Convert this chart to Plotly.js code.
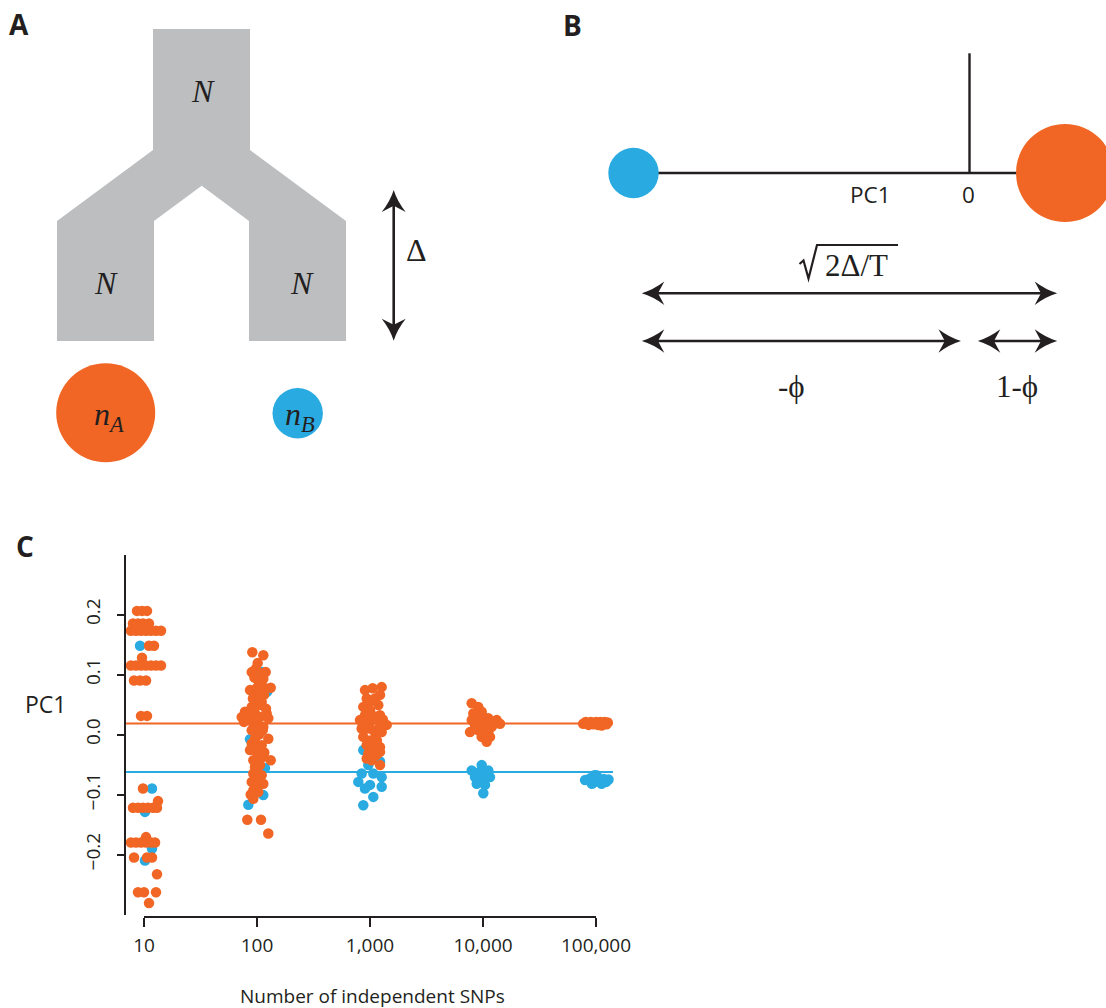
<!DOCTYPE html>
<html><head><meta charset="utf-8">
<script src="https://cdn.plot.ly/plotly-3.0.1.min.js"></script>
<style>html,body{margin:0;padding:0;background:#fff}</style>
</head><body><div id="chart" style="width:1106px;height:1008px"></div>
<script>
// ---------------- data (panel C) ----------------
const snpTicks = [10, 100, 1000, 10000, 100000];
const snpTickText = ['10', '100', '1,000', '10,000', '100,000'];
const pc1Ticks = [-0.2, -0.1, 0, 0.1, 0.2];
const pc1TickText = ['\u22120.2', '\u22120.1', '0.0', '0.1', '0.2'];
const meanA = 0.0183;   // orange population expected PC1
const meanB = -0.0623;  // blue population expected PC1

// 10 SNPs
const a10X = [8.67, 9.60, 10.63, 7.99, 8.85, 9.80, 11.07, 7.67, 8.50, 9.41, 10.42, 11.53, 12.77, 14.14, 11.07, 12.26, 9.60,
  7.67, 8.50, 9.41, 10.42, 11.53, 12.77, 14.14, 8.16, 9.22, 10.42, 9.41, 10.63,
  9.80, 13.30, 7.99, 8.85, 9.80, 10.85, 12.01, 13.03, 10.42, 7.67, 8.50, 9.41, 10.42, 11.53, 12.52,
  8.16, 10.63, 11.77, 13.03, 8.85, 10.0, 12.77, 11.07];
const a10Y = [0.206, 0.206, 0.206, 0.185, 0.185, 0.185, 0.185, 0.173, 0.173, 0.173, 0.173, 0.173, 0.173, 0.173, 0.148, 0.148, 0.128,
  0.115, 0.115, 0.115, 0.115, 0.115, 0.115, 0.115, 0.090, 0.090, 0.090, 0.031, 0.031,
  -0.090, -0.111, -0.122, -0.122, -0.122, -0.122, -0.122, -0.122, -0.171, -0.180, -0.180, -0.180, -0.180, -0.180, -0.180,
  -0.205, -0.205, -0.205, -0.233, -0.263, -0.263, -0.263, -0.281];
const b10X = [9.22, 11.77, 10.2, 11.77, 10.2];
const b10Y = [0.148, -0.090, -0.129, -0.190, -0.210];

// 100 SNPs
const a100X = [90.9, 113.7, 101.4, 89.8, 113.7, 119.4, 102.7, 113.7, 86.7, 99.4, 113.7, 132.2, 96.0, 115.3, 110.0, 89.8, 106.3, 120.1,
  78.3, 96.0, 121.8, 73.2, 86.7, 106.3, 125.9, 76.7, 92.8, 113.7, 89.8, 112.3, 96.0, 125.9, 89.8, 110.0, 86.7, 99.4,
  92.8, 113.7, 132.2, 96.0, 106.3, 92.8, 110.0, 89.8, 113.7, 92.8, 102.7, 92.8, 82.1, 108.5, 125.9,
  98, 105, 92, 100, 84, 98, 104, 94, 104, 100, 105, 98, 88, 116, 100, 108, 95];
const a100Y = [0.137, 0.132, 0.119, 0.104, 0.102, 0.104, 0.090, 0.093, 0.074, 0.077, 0.079, 0.078, 0.063, 0.066, 0.054, 0.046, 0.049, 0.043,
  0.038, 0.035, 0.035, 0.029, 0.027, 0.029, 0.027, 0.021, 0.018, 0.013, 0.007, 0.007, -0.007, -0.007, -0.015, -0.018, -0.026, -0.029,
  -0.043, -0.037, -0.043, -0.054, -0.051, -0.065, -0.068, -0.079, -0.082, -0.093, -0.096, -0.107, -0.142, -0.142, -0.165,
  0.110, 0.085, 0.060, 0.055, 0.032, 0.012, 0.000, -0.020, -0.040, -0.060, -0.075, -0.085, -0.100, -0.030, 0.025, 0.070, 0.095];
const b100X = [86.7, 106.3, 117.7, 113.7, 83.8, 122.6, 110.7, 84.5, 102.7, 110.0];
const b100Y = [-0.008, -0.021, -0.056, -0.101, -0.117, 0.071, 0.104, 0.032, -0.084, -0.030];

// 1,000 SNPs
const a1000X = [903, 1056, 1269, 1226, 935, 1107, 872, 1184, 903, 1226, 815, 1000, 1226, 1405, 844, 1070, 1269, 872, 1107,
  935, 1226, 966, 1146, 1226, 935, 1035, 1226, 1000, 1100, 950, 1150, 1000, 1050, 1300, 880, 1000, 1150];
const a1000Y = [0.074, 0.077, 0.079, 0.066, 0.060, 0.060, 0.046, 0.049, 0.032, 0.032, 0.024, 0.021, 0.018, 0.016, 0.010, 0.007, 0.004, -0.004, -0.007,
  -0.018, -0.021, -0.032, -0.034, -0.029, -0.040, -0.043, -0.051, 0.040, 0.030, 0.010, 0.005, -0.010, -0.025, 0.025, 0.020, 0.055, -0.010];
const b1000X = [872, 1000, 1146, 844, 1070, 1269, 788, 1000, 1269, 903, 1070, 872, 966, 1226];
const b1000Y = [-0.026, -0.029, -0.026, -0.065, -0.065, -0.071, -0.079, -0.084, -0.087, -0.090, -0.104, -0.118, -0.051, -0.045];

// 10,000 SNPs
const a10000X = [7943, 9085, 8209, 9739, 7943, 9408, 11139, 13222, 14139, 8497, 10062, 11940, 7674, 9085, 11139, 9739, 11533, 10783,
  10000, 9000, 10500, 12500, 8800, 10400, 12000];
const a10000Y = [0.052, 0.046, 0.035, 0.038, 0.024, 0.027, 0.027, 0.024, 0.018, 0.016, 0.013, 0.013, 0.004, 0.007, 0.004, -0.004, -0.004, -0.012,
  0.030, 0.020, 0.020, 0.018, 0.010, 0.002, 0.022];
const b10000X = [9739, 7943, 9408, 11139, 11533, 8798, 10416, 10062, 8497, 10500, 9500];
const b10000Y = [-0.051, -0.060, -0.062, -0.060, -0.071, -0.082, -0.084, -0.098, -0.071, -0.066, -0.075];

// 100,000 SNPs
const a100000X = [77000, 81000, 86000, 90000, 95000, 100000, 104000, 109000, 114000, 119000, 124000, 127000, 84000, 98000, 112000];
const a100000Y = [0.018, 0.021, 0.016, 0.021, 0.017, 0.021, 0.016, 0.021, 0.018, 0.021, 0.017, 0.020, 0.019, 0.019, 0.015];
const b100000X = [80000, 89000, 95000, 97000, 101000, 106000, 112000, 117000, 123000, 129000, 92000];
const b100000Y = [-0.076, -0.073, -0.080, -0.068, -0.068, -0.078, -0.082, -0.074, -0.079, -0.075, -0.082];

// ---------------- styling ----------------
const W = 1106, H = 1008;
const ORANGE = '#F16624', BLUE = '#29ABE2', GRAY = '#BCBEC0', INK = '#231F20';
const SANS = 'Open Sans, sans-serif', SERIF = 'Liberation Serif, Times New Roman, serif';
const fx = x => x / W, fy = y => 1 - y / H;
const P = (x, y) => fx(x).toFixed(5) + ',' + fy(y).toFixed(5);

const blueX = [].concat(b10X, b100X, b1000X, b10000X, b100000X);
const blueY = [].concat(b10Y, b100Y, b1000Y, b10000Y, b100000Y);
const orangeX = [].concat(a10X, a100X, a1000X, a10000X, a100000X);
const orangeY = [].concat(a10Y, a100Y, a1000Y, a10000Y, a100000Y);

const traces = [
  {type: 'scatter', mode: 'markers', x: blueX, y: blueY, marker: {color: BLUE, size: 10.5, line: {width: 0}}, hoverinfo: 'skip'},
  {type: 'scatter', mode: 'markers', x: orangeX, y: orangeY, marker: {color: ORANGE, size: 10.5, line: {width: 0}}, hoverinfo: 'skip'}
];

function head(tx, ty, dx, dy, L, Wd) {
  const nx = -dy, ny = dx;
  const bx = tx - L * dx, by = ty - L * dy;
  const p1 = [bx + Wd * nx, by + Wd * ny], p2 = [bx - Wd * nx, by - Wd * ny];
  const m = [tx - 0.72 * L * dx, ty - 0.72 * L * dy];
  const c1 = [tx - 0.5 * L * dx + 0.28 * Wd * nx, ty - 0.5 * L * dy + 0.28 * Wd * ny];
  const c2 = [tx - 0.5 * L * dx - 0.28 * Wd * nx, ty - 0.5 * L * dy - 0.28 * Wd * ny];
  return {type: 'path', xref: 'paper', yref: 'paper', layer: 'above',
    path: 'M' + P(tx, ty) + ' Q' + P(c1[0], c1[1]) + ' ' + P(p1[0], p1[1]) + ' L' + P(m[0], m[1]) + ' L' + P(p2[0], p2[1]) +
      ' Q' + P(c2[0], c2[1]) + ' ' + P(tx, ty) + ' Z',
    fillcolor: INK, line: {width: 0}};
}
function seg(x0, y0, x1, y1, w, c) {
  return {type: 'line', xref: 'paper', yref: 'paper', layer: 'above', x0: fx(x0), y0: fy(y0), x1: fx(x1), y1: fy(y1),
    line: {color: c || INK, width: w}};
}
function dbl(x0, y0, x1, y1, L, Wd) {
  const len = Math.hypot(x1 - x0, y1 - y0), dx = (x1 - x0) / len, dy = (y1 - y0) / len;
  return [seg(x0 + 0.6 * L * dx, y0 + 0.6 * L * dy, x1 - 0.6 * L * dx, y1 - 0.6 * L * dy, 2.6),
    head(x1, y1, dx, dy, L, Wd), head(x0, y0, -dx, -dy, L, Wd)];
}
function circ(cx, cy, r, c) {
  return {type: 'circle', xref: 'paper', yref: 'paper', layer: 'above', x0: fx(cx - r), x1: fx(cx + r), y0: fy(cy + r), y1: fy(cy - r),
    fillcolor: c, line: {width: 0}};
}

const treePts = [[153, 29], [250, 29], [250, 150], [346, 221], [346, 341], [249, 341], [249, 221], [201.7, 185.7], [154, 221],
  [154, 341], [57, 341], [57, 221], [153, 150]];

const shapes = [
  // panel A
  {type: 'path', xref: 'paper', yref: 'paper', layer: 'above', fillcolor: GRAY, line: {width: 0},
    path: 'M' + treePts.map(p => P(p[0], p[1])).join(' L') + ' Z'},
  circ(105.7, 412.7, 49.5, ORANGE),
  circ(297.7, 413.3, 25.2, BLUE),
  ...dbl(393.7, 190, 393.7, 340.7, 22, 12),
  // panel B
  seg(633.5, 173, 1065, 173, 2.6),
  seg(969.5, 53.3, 969.5, 173, 2.4),
  circ(633.5, 173, 25.2, BLUE),
  circ(1065, 173, 49, ORANGE),
  ...dbl(641.8, 293.3, 1057.2, 293.3, 22.5, 11.7),
  ...dbl(641.8, 341, 961, 341, 22.5, 11.7),
  ...dbl(977.8, 341, 1057.2, 341, 22.5, 11.7),
  {type: 'path', xref: 'paper', yref: 'paper', layer: 'above', line: {color: INK, width: 2.2}, fillcolor: 'rgba(0,0,0,0)',
    path: 'M' + P(799.5, 264) + ' L' + P(803.5, 260.5) + ' L' + P(808.5, 278.5) + ' L' + P(817, 245) + ' L' + P(898, 245)},
  // panel C: mean lines and x-axis line
  {type: 'line', xref: 'paper', yref: 'y', layer: 'below', x0: fx(126), x1: fx(613), y0: meanA, y1: meanA, line: {color: ORANGE, width: 2}},
  {type: 'line', xref: 'paper', yref: 'y', layer: 'below', x0: fx(126), x1: fx(613), y0: meanB, y1: meanB, line: {color: BLUE, width: 2}},
  {type: 'line', xref: 'x', yref: 'paper', layer: 'above', x0: snpTicks[0], x1: snpTicks[snpTicks.length - 1], y0: fy(917), y1: fy(917),
    line: {color: INK, width: 2}}
];

function ann(text, x, y, size, family, extra) {
  return Object.assign({text: text, x: fx(x), y: fy(y), xref: 'paper', yref: 'paper', showarrow: false,
    xanchor: 'center', yanchor: 'middle', font: {size: size, family: family, color: INK}}, extra || {});
}

const annotations = [
  ann('<b>A</b>', 19, 24, 28, SANS),
  ann('<b>B</b>', 572, 24.5, 28, SANS),
  ann('<b>C</b>', 25, 546, 28, SANS),
  ann('<i>N</i>', 203, 90.7, 32, SERIF),
  ann('<i>N</i>', 106, 282.7, 32, SERIF),
  ann('<i>N</i>', 301.7, 282.7, 32, SERIF),
  ann('\u0394', 416.7, 250, 32, SERIF),
  ann('<i>n</i><sub><i>A</i></sub>', 109, 416, 32, SERIF),
  ann('<i>n</i><sub><i>B</i></sub>', 300, 416, 32, SERIF),
  ann('PC1', 870, 195, 22.5, SANS),
  ann('0', 968, 195, 22.5, SANS),
  ann('2\u0394/T', 856, 265.5, 31, SERIF),
  ann('-\u03D5', 791.5, 386.7, 31, SERIF),
  ann('1-\u03D5', 1017, 386.7, 31, SERIF),
  ann('PC1', 45, 704, 23, SANS),
  ann('Number of independent SNPs', 372, 996, 19, SANS)
];

const logAt = px => 1 + (px - 144) / 113;

const layout = {
  width: W, height: H,
  margin: {l: 0, r: 0, t: 0, b: 0},
  paper_bgcolor: '#fff', plot_bgcolor: 'rgba(0,0,0,0)',
  showlegend: false,
  font: {family: SANS, color: INK},
  xaxis: {type: 'log', domain: [fx(126), fx(640)], range: [logAt(126), logAt(640)],
    tickmode: 'array', tickvals: snpTicks, ticktext: snpTickText,
    ticks: 'outside', ticklen: 9, tickwidth: 2, tickcolor: INK, ticklabelstandoff: 2,
    showline: false, showgrid: false, zeroline: false,
    anchor: 'free', position: fy(917), tickfont: {size: 19, family: SANS, color: INK}},
  yaxis: {domain: [fy(914.5), fy(554.5)], range: [-0.3, 0.3],
    tickmode: 'array', tickvals: pc1Ticks, ticktext: pc1TickText, tickangle: -90,
    ticks: 'outside', ticklen: 7, tickwidth: 2, tickcolor: INK, ticklabelstandoff: 9,
    showline: true, linewidth: 2, linecolor: INK, showgrid: false, zeroline: false,
    tickfont: {size: 19, family: SANS, color: INK}},
  shapes: shapes,
  annotations: annotations
};

Plotly.newPlot('chart', traces, layout, {staticPlot: true, displayModeBar: false});
</script>
</body></html>
